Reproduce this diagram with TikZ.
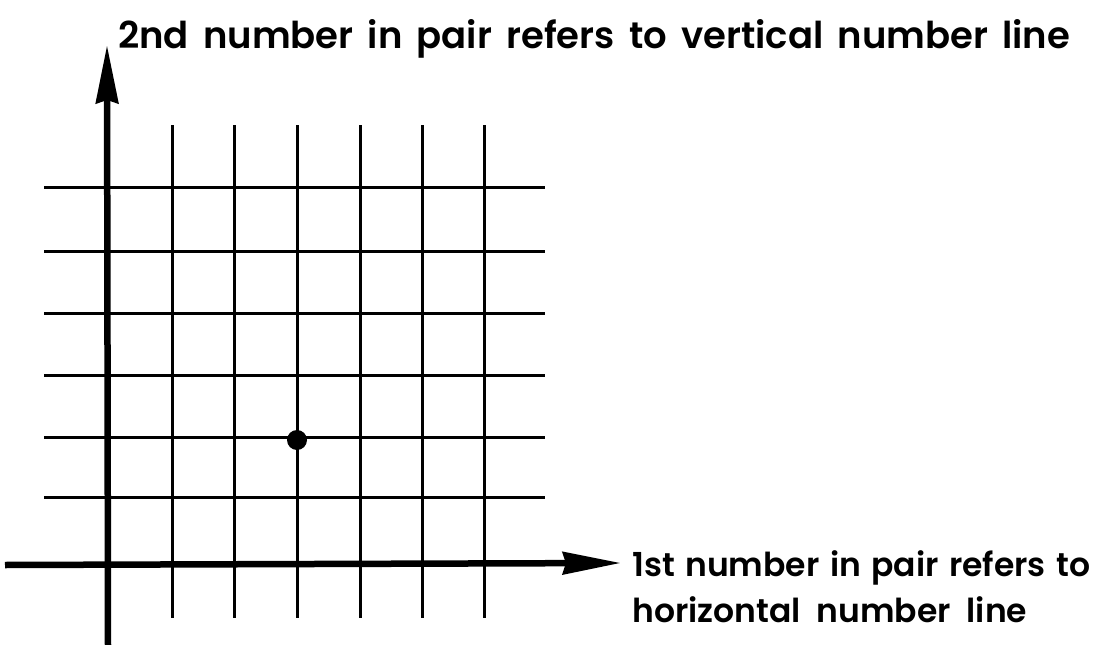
\documentclass[tikz,border=0pt]{standalone}
\usepackage{fontspec}
\setmainfont{Poppins}
\newfontfamily\capfont{Poppins SemiBold}
\usetikzlibrary{arrows.meta}
\begin{document}
\begin{tikzpicture}[x=1pt,y=-1pt,
  axisline/.style={line width=6.5pt,-{Stealth[length=58pt,width=22pt,inset=3pt]}},
  gridline/.style={line width=3pt},
  caption/.style={font=\capfont,inner sep=0pt,anchor=base west},
  pointdot/.style={fill=black}]
\useasboundingbox (0,0) rectangle (1112,645);
\foreach \x in {172,234,297,360,422,484} \draw[gridline] (\x,125) -- (\x,618);
\foreach \y in {187,251,313,375,437,497} \draw[gridline] (44,\y) -- (545,\y);
\coordinate (xs) at (5,565);
\coordinate (xe) at (621,563);
\coordinate (ys) at (108,645);
\coordinate (ye) at (107,45);
\draw[axisline] (xs) -- (xe);
\draw[axisline] (ys) -- (ye);
\fill[pointdot] (297,440) circle (10pt);
\node[caption,font=\capfont\fontsize{37}{42}\selectfont] (top) at (118,48) {\makebox[952pt][s]{2nd number in pair refers to vertical number line}};
\node[caption,font=\capfont\fontsize{33}{38}\selectfont] (r1) at (632,576) {\makebox[458pt][s]{1st number in pair refers to}};
\node[caption,font=\capfont\fontsize{33}{38}\selectfont] (r2) at (632,622) {\makebox[395pt][s]{horizontal number line}};
\end{tikzpicture}
\end{document}
